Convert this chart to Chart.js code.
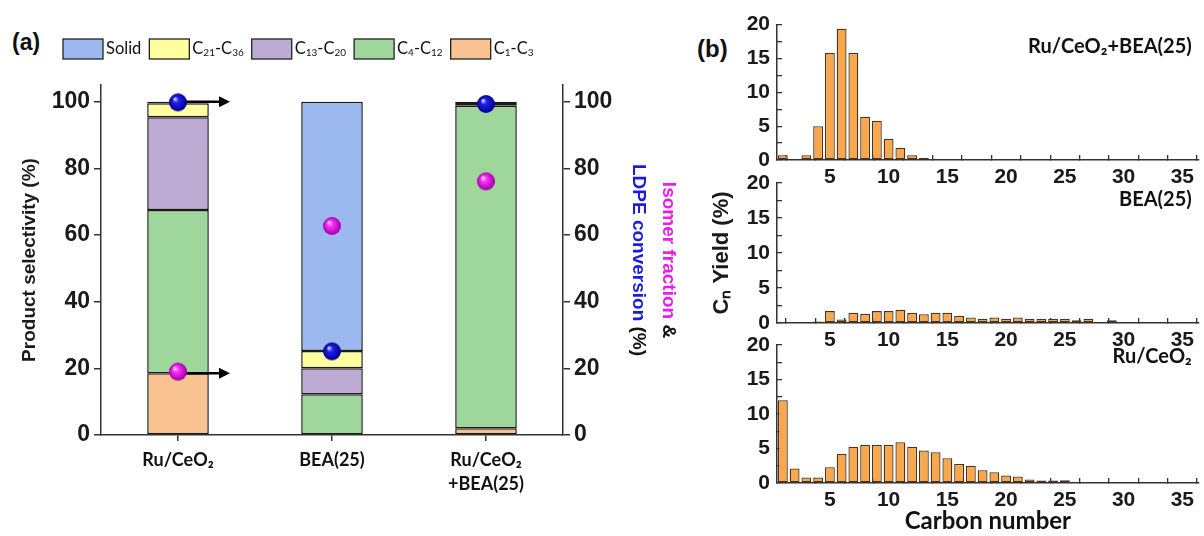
<!DOCTYPE html>
<html><head><meta charset="utf-8">
<script src="https://cdn.jsdelivr.net/npm/chart.js@4"></script>
<style>
html,body{margin:0;padding:0;background:#fff;width:1204px;height:536px;overflow:hidden;}
body{position:relative;}
canvas{position:absolute;}
.lbl{position:absolute;font-family:"Liberation Sans",Arial,sans-serif;font-weight:bold;color:#111;}
</style></head><body>
<div class="lbl" style="left:12px;top:29px;font-size:23px;">(a)</div>
<div class="lbl" style="left:697px;top:35px;font-size:24px;">(b)</div>
<canvas id="chartA" width="700" height="536" style="left:0;top:0"></canvas>
<canvas id="h1" width="504" height="190" style="left:700px;top:0"></canvas>
<canvas id="h2" width="504" height="203" style="left:700px;top:150px"></canvas>
<canvas id="h3" width="504" height="226" style="left:700px;top:310px"></canvas>
<script>
// ---------- Panel (a) data ----------
const categories = ['Ru/CeO₂', 'BEA(25)', ['Ru/CeO₂', '+BEA(25)']];
const c1c3   = [18.5, 0.0, 2.0];
const c4c12  = [49.0, 12.2, 96.8];
const c13c20 = [27.8, 7.8, 0.5];
const c21c36 = [4.2, 5.2, 0.3];
const solid  = [0.5, 74.8, 0.4];
const isomerFraction = [19.0, 62.7, 76.1];
const ldpeConversion = [99.8, 25.1, 99.3];
const arrowCategory = [0, 0];
const arrowLevel = [100, 18.5];
const yTicksA = [0, 20, 40, 60, 80, 100];

// ---------- Panel (b) data ----------
const carbonNumber = [1,2,3,4,5,6,7,8,9,10,11,12,13,14,15,16,17,18,19,20,21,22,23,24,25,26,27,28,29,30];
const yieldRuBEA = [0.7,0.1,0.7,5.0,15.8,19.4,15.8,6.4,5.8,3.1,1.8,0.7,0.3,0.15,0,0,0,0,0,0,0,0,0,0,0,0,0,0,0,0];
const yieldBEA   = [0,0,0,0.2,1.7,0.5,1.45,1.3,1.7,1.7,1.9,1.45,1.25,1.45,1.45,1.0,0.8,0.6,0.8,0.6,0.8,0.6,0.6,0.6,0.6,0.4,0.6,0.15,0.4,0];
const yieldRu    = [12.0,2.1,0.8,0.8,2.3,4.2,5.25,5.5,5.5,5.5,5.9,5.25,4.7,4.45,3.6,2.75,2.5,1.85,1.55,1.1,0.95,0.5,0.35,0.35,0.4,0.15,0,0,0,0];
const xTicksB = [5,10,15,20,25,30,35];
const xMinorB = [2.5,7.5,12.5,17.5,22.5,27.5,32.5];
const yTicksB = [0,5,10,15,20];
const yMinorB = [2.5,7.5,12.5,17.5];

Chart.defaults.font.family = '"Liberation Sans", Arial, sans-serif';
Chart.defaults.color = '#1a1a1a';
Chart.defaults.animation = false;

function sphere(light, mid, dark, r) {
  const c = document.createElement('canvas');
  c.width = c.height = 2 * r + 2;
  const g = c.getContext('2d');
  const cx = r + 1, cy = r + 1;
  const grd = g.createRadialGradient(cx - r * 0.35, cy - r * 0.4, r * 0.05, cx, cy, r);
  grd.addColorStop(0, light);
  grd.addColorStop(0.3, mid);
  grd.addColorStop(1, dark);
  g.fillStyle = grd;
  g.beginPath(); g.arc(cx, cy, r, 0, Math.PI * 2); g.fill();
  return c;
}
const blueBall = sphere('#d8d8ff', '#2020f0', '#00008a', 9);
const pinkBall = sphere('#ffd8ff', '#ff30ff', '#a000a0', 9);

// Legend drawn from the datasets, with real subscript rendering
const SUB = '₀₁₂₃₄₅₆₇₈₉';
function splitSub(text) {
  const parts = [];
  for (const ch of text) {
    const k = SUB.indexOf(ch);
    const isSub = k >= 0;
    const c = isSub ? String(k) : ch;
    if (parts.length && parts[parts.length - 1].sub === isSub) parts[parts.length - 1].t += c;
    else parts.push({ t: c, sub: isSub });
  }
  return parts;
}
const subLegend = {
  id: 'subLegend',
  afterDraw(chart, args, o) {
    const ctx = chart.ctx;
    let x = o.x;
    const items = chart.data.datasets.filter(d => d.type !== 'line').slice().reverse();
    ctx.save();
    items.forEach(d => {
      ctx.fillStyle = d.backgroundColor;
      ctx.fillRect(x, o.y, o.boxW, o.boxH);
      ctx.strokeStyle = '#222'; ctx.lineWidth = 1.3;
      ctx.strokeRect(x, o.y, o.boxW, o.boxH);
      x += o.boxW + o.gap;
      const yc = o.y + o.boxH / 2;
      ctx.fillStyle = '#111';
      ctx.textBaseline = 'middle'; ctx.textAlign = 'left';
      splitSub(d.label).forEach(p => {
        ctx.font = (p.sub ? o.subSize : o.size) + 'px ' + o.family;
        ctx.fillText(p.t, x, p.sub ? yc + o.subShift : yc);
        x += ctx.measureText(p.t).width;
      });
      x += o.spacing;
    });
    ctx.restore();
  }
};

const arrows = {
  id: 'arrows',
  afterDatasetDraw(chart, args, o) {
    if (args.index !== 0) return;
    const ctx = chart.ctx, xs = chart.scales.x, ys = chart.scales.y2;
    arrowCategory.forEach((cat, i) => {
      const x0 = xs.getPixelForValue(cat);
      const y = ys.getPixelForValue(arrowLevel[i]);
      const x1 = x0 + o.length;
      ctx.save();
      ctx.strokeStyle = '#000'; ctx.fillStyle = '#000'; ctx.lineWidth = 2.5;
      ctx.beginPath(); ctx.moveTo(x0, y); ctx.lineTo(x1 - 8, y); ctx.stroke();
      ctx.beginPath(); ctx.moveTo(x1, y); ctx.lineTo(x1 - 11, y - 5.5); ctx.lineTo(x1 - 11, y + 5.5); ctx.closePath(); ctx.fill();
      ctx.restore();
    });
  }
};

const rightTitle = {
  id: 'rightTitle',
  afterDraw(chart, args, o) {
    const ctx = chart.ctx, s = chart.scales.y2, ca = chart.chartArea;
    const yc = (ca.top + ca.bottom) / 2;
    o.lines.forEach(line => {
      ctx.save();
      ctx.translate(s.left + line.dx, yc);
      ctx.rotate(Math.PI / 2);
      ctx.font = o.font;
      ctx.textBaseline = 'middle';
      ctx.textAlign = 'left';
      let w = 0;
      line.parts.forEach(p => w += ctx.measureText(p.text).width);
      let x = -w / 2;
      line.parts.forEach(p => { ctx.fillStyle = p.color; ctx.fillText(p.text, x, 0); x += ctx.measureText(p.text).width; });
      ctx.restore();
    });
  }
};

const axisColor = '#333';
const barBase = { borderColor: '#1a1a1a', borderWidth: 1.5, borderSkipped: false, categoryPercentage: 1, barPercentage: 0.4, order: 1 };

new Chart(document.getElementById('chartA'), {
  type: 'bar',
  data: {
    labels: categories,
    datasets: [
      Object.assign({ label: 'C₁-C₃', data: c1c3, backgroundColor: '#f8c291' }, barBase),
      Object.assign({ label: 'C₄-C₁₂', data: c4c12, backgroundColor: '#9fd69b' }, barBase),
      Object.assign({ label: 'C₁₃-C₂₀', data: c13c20, backgroundColor: '#bdabd4' }, barBase),
      Object.assign({ label: 'C₂₁-C₃₆', data: c21c36, backgroundColor: '#ffffa0' }, barBase),
      Object.assign({ label: 'Solid', data: solid, backgroundColor: '#9bb9ee' }, barBase),
      { type: 'line', label: 'Isomer fraction', data: isomerFraction, yAxisID: 'y2', showLine: false, pointStyle: pinkBall, pointRadius: 9, order: 0 },
      { type: 'line', label: 'LDPE conversion', data: ldpeConversion, yAxisID: 'y2', showLine: false, pointStyle: blueBall, pointRadius: 9, order: 0 }
    ]
  },
  options: {
    responsive: false, animation: false,
    layout: { padding: { top: 85, left: 0, right: 0, bottom: 0 } },
    plugins: {
      tooltip: { enabled: false },
      legend: { display: false },
      subLegend: { x: 63, y: 39, boxW: 40, boxH: 20, gap: 3, spacing: 8, family: 'Lato, "Open Sans", sans-serif', size: 16.5, subSize: 10, subShift: 4 },
      arrows: { length: 52 },
      rightTitle: {
        font: 'bold 19px "Liberation Sans", Arial, sans-serif',
        lines: [
          { dx: 105, parts: [{ text: 'Isomer fraction', color: '#e81ee8' }, { text: ' &', color: '#111' }] },
          { dx: 75, parts: [{ text: 'LDPE conversion', color: '#1c1ce0' }, { text: ' (%)', color: '#111' }] }
        ]
      }
    },
    scales: {
      x: {
        stacked: true, offset: true,
        grid: { drawOnChartArea: false, offset: false, tickLength: 6, color: axisColor, lineWidth: 1.5 },
        border: { color: axisColor, width: 1.5 },
        ticks: { font: { family: 'Lato', weight: 'bold', size: 18, lineHeight: 1.35 }, color: '#111', padding: 7 },
        afterFit(s) { s.height = 101; }
      },
      y: {
        stacked: true, min: 0, max: 105,
        afterBuildTicks(s) { s.ticks = yTicksA.map(v => ({ value: v })); },
        ticks: { font: { weight: 'bold', size: 23 }, color: '#1a1a1a', padding: 4 },
        grid: { drawOnChartArea: false, tickLength: 7, color: axisColor, lineWidth: 1.5 },
        border: { color: axisColor, width: 1.5 },
        title: { display: true, text: 'Product selectivity (%)', font: { weight: 'bold', size: 19 }, color: '#1a1a1a', padding: { top: 18, bottom: 0 } },
        afterFit(s) { s.width = 101; }
      },
      y2: {
        position: 'right', min: 0, max: 105,
        afterBuildTicks(s) { s.ticks = yTicksA.map(v => ({ value: v })); },
        ticks: { font: { weight: 'bold', size: 23 }, color: '#1a1a1a', padding: 4 },
        grid: { drawOnChartArea: false, tickLength: 7, color: axisColor, lineWidth: 1.5 },
        border: { color: axisColor, width: 1.5 },
        afterFit(s) { s.width = 137; }
      }
    }
  },
  plugins: [subLegend, arrows, rightTitle]
});

// ---------- Panel (b) ----------
const cornerLabel = {
  id: 'cornerLabel',
  afterDraw(chart, args, o) {
    const { ctx, chartArea } = chart;
    ctx.save();
    ctx.font = 'bold 20px Lato, "Open Sans", sans-serif';
    ctx.fillStyle = '#111';
    ctx.textAlign = 'right';
    ctx.textBaseline = 'middle';
    ctx.fillText(o.text, chartArea.right - o.dx, chartArea.top + o.dy);
    ctx.restore();
  }
};

function withMinor(major, minor) {
  return major.concat(minor).sort((a, b) => a - b).map(v => ({ value: v }));
}

function hist(id, values, o) {
  return new Chart(document.getElementById(id), {
    type: 'bar',
    data: {
      datasets: [{
        data: carbonNumber.map((c, i) => ({ x: c, y: values[i] })),
        backgroundColor: '#f9a74c', borderColor: '#4a3420', borderWidth: 1.3, borderSkipped: false,
        categoryPercentage: 1, barPercentage: 0.84
      }]
    },
    options: {
      responsive: false, animation: false,
      layout: { padding: { top: o.padTop, left: 0, right: 0, bottom: 0 } },
      plugins: { legend: { display: false }, tooltip: { enabled: false }, cornerLabel: { text: o.label, dx: 7, dy: o.labelDy } },
      scales: {
        x: {
          type: 'linear', min: 0.5, max: 36.4, offset: false,
          afterBuildTicks(s) { s.ticks = withMinor(xTicksB, xMinorB); },
          ticks: { autoSkip: false, maxRotation: 0, font: { weight: 'bold', size: 21 }, color: '#1a1a1a', padding: 10,
                   callback: v => xTicksB.includes(v) ? String(v) : '' },
          grid: { drawOnChartArea: false, tickLength: -5, color: axisColor, lineWidth: 1.3 },
          border: { color: axisColor, width: 1.5 },
          title: o.xTitle ? { display: true, text: o.xTitle, font: { family: 'Lato', weight: 'bold', size: 24 }, color: '#111', padding: { top: 0, bottom: 0 } } : { display: false },
          afterFit(s) { s.height = o.xh; }
        },
        y: {
          min: 0, max: 20,
          afterBuildTicks(s) { s.ticks = withMinor(yTicksB, yMinorB); },
          ticks: { autoSkip: false, font: { weight: 'bold', size: 21 }, color: '#1a1a1a', padding: 12,
                   callback: v => yTicksB.includes(v) ? String(v) : '' },
          grid: { drawOnChartArea: false, tickLength: -5, color: axisColor, lineWidth: 1.3 },
          border: { color: axisColor, width: 1.5 },
          title: o.yTitle ? { display: true, text: o.yTitle, font: { weight: 'bold', size: 22 }, color: '#1a1a1a', padding: { top: 9, bottom: 0 } } : { display: false },
          afterFit(s) { s.width = 77; }
        }
      }
    },
    plugins: [cornerLabel]
  });
}

hist('h1', yieldRuBEA, { padTop: 21, xh: 30, label: 'Ru/CeO₂+BEA(25)', labelDy: 22 });
hist('h2', yieldBEA, { padTop: 33, xh: 30, label: 'BEA(25)', labelDy: 17, yTitle: 'Cₙ Yield (%)' });
hist('h3', yieldRu, { padTop: 35, xh: 53, label: 'Ru/CeO₂', labelDy: 12, xTitle: 'Carbon number' });
</script>
</body></html>
